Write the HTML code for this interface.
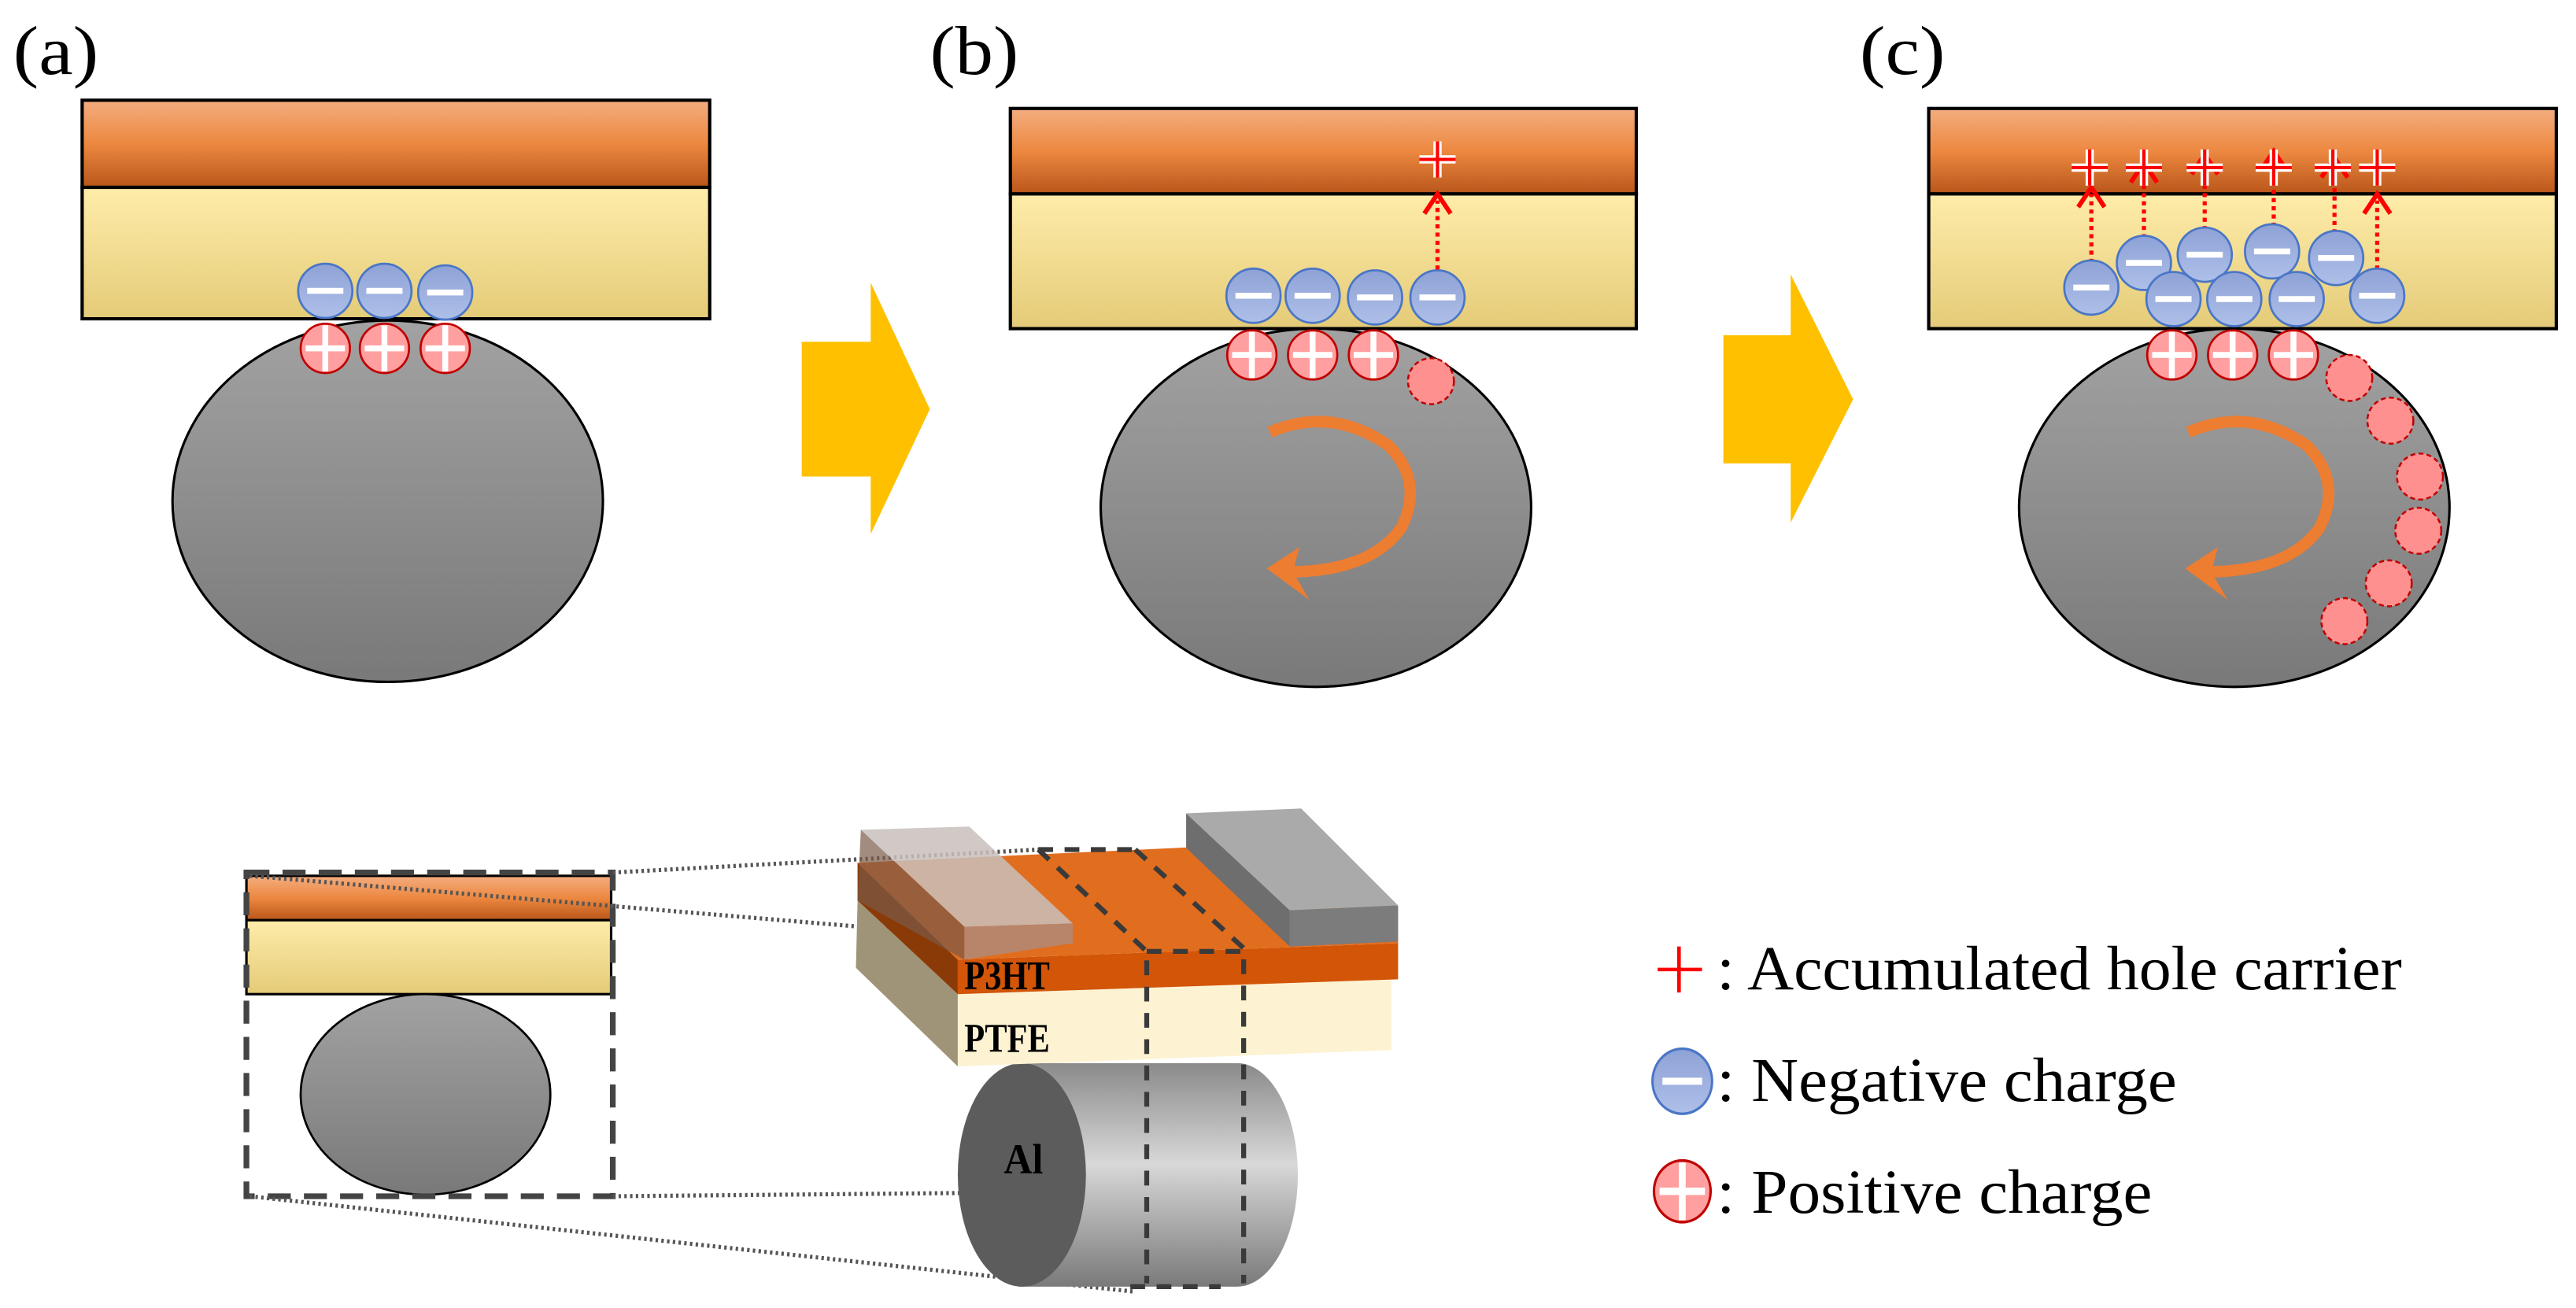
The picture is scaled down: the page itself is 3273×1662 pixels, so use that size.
<!DOCTYPE html>
<html><head><meta charset="utf-8"><style>html,body{margin:0;padding:0;background:#fff}svg{display:block}.s{font-family:'Liberation Serif',serif}</style></head><body>
<svg width="3273" height="1662" viewBox="0 0 1568 796" preserveAspectRatio="none" xmlns="http://www.w3.org/2000/svg">
<defs>
<linearGradient id="og" x1="0" y1="0" x2="0" y2="1"><stop offset="0" stop-color="#f4ad80"/><stop offset="0.5" stop-color="#ec8840"/><stop offset="1" stop-color="#b9561a"/></linearGradient>
<linearGradient id="yg" x1="0" y1="0" x2="0" y2="1"><stop offset="0" stop-color="#feeca9"/><stop offset="1" stop-color="#e4cb78"/></linearGradient>
<linearGradient id="gg" x1="0" y1="0" x2="0" y2="1"><stop offset="0" stop-color="#a2a2a2"/><stop offset="1" stop-color="#797979"/></linearGradient>
<linearGradient id="ng" x1="0" y1="0" x2="0" y2="1"><stop offset="0" stop-color="#8ea2d6"/><stop offset="1" stop-color="#aebfe8"/></linearGradient>
<linearGradient id="cyl" x1="0" y1="0" x2="0" y2="1"><stop offset="0" stop-color="#8a8a8a"/><stop offset="0.45" stop-color="#d8d8d8"/><stop offset="1" stop-color="#7a7a7a"/></linearGradient>
<g id="neg"><circle r="16.5" fill="url(#ng)" stroke="#4a76c6" stroke-width="1.3"/><rect x="-11" y="-1.8" width="22" height="3.6" fill="#fff"/></g>
<g id="pos"><circle r="15" fill="#ff9f9f" stroke="#c00000" stroke-width="1.3"/><rect x="-12" y="-1.8" width="24" height="3.6" fill="#fff"/><rect x="-1.8" y="-14" width="3.6" height="28" fill="#fff"/></g>
<g id="dpos"><circle r="14" fill="#ff9090" stroke="#c00000" stroke-width="1.2" stroke-dasharray="3,2"/></g>
<g id="hp"><path d="M-11 0H11M0 -11V11" stroke="#fff" stroke-width="5"/><path d="M-11 0H11M0 -11V11" stroke="#f00" stroke-width="2"/></g>
<g id="arr"><line x1="0" y1="0" x2="0" y2="-42" stroke="#f00" stroke-width="2.5" stroke-dasharray="2.5,2.5"/><path d="M-8 -34L0 -46L8 -34" fill="none" stroke="#f00" stroke-width="2.8"/></g>
<g id="rot"><path d="M-32 -40 Q5 -56 40 -32 Q62 -10 48 18 Q30 44 -18 45" fill="none" stroke="#ed7d31" stroke-width="7"/><path d="M-34 43 L-14 30 L-18 45 L-8 62 Z" fill="#ed7d31"/></g>
</defs>
<g class="s" fill="#000">
<text x="8" y="45" font-size="42" textLength="52" lengthAdjust="spacingAndGlyphs">(a)</text>
<text x="566" y="45" font-size="42" textLength="54" lengthAdjust="spacingAndGlyphs">(b)</text>
<text x="1132" y="45" font-size="42" textLength="52" lengthAdjust="spacingAndGlyphs">(c)</text>
</g>
<rect x="50" y="61" width="382" height="53" fill="url(#og)" stroke="#000" stroke-width="2"/>
<rect x="50" y="114" width="382" height="80" fill="url(#yg)" stroke="#000" stroke-width="2"/>
<ellipse cx="236" cy="305" rx="131" ry="110" fill="url(#gg)" stroke="#000" stroke-width="1.5"/>
<use href="#neg" x="198" y="177"/><use href="#neg" x="234" y="177"/><use href="#neg" x="271" y="178"/>
<use href="#pos" x="198" y="212"/><use href="#pos" x="234" y="212"/><use href="#pos" x="271" y="212"/>
<path d="M488 208H530V172L566 249L530 325V290H488Z" fill="#ffc000"/>
<path d="M1049 204H1090V167L1128 243L1090 318V282H1049Z" fill="#ffc000"/>
<rect x="615" y="66" width="381" height="52" fill="url(#og)" stroke="#000" stroke-width="2"/>
<rect x="615" y="118" width="381" height="82" fill="url(#yg)" stroke="#000" stroke-width="2"/>
<ellipse cx="801" cy="309" rx="131" ry="109" fill="url(#gg)" stroke="#000" stroke-width="1.5"/>
<use href="#neg" x="763" y="180"/><use href="#neg" x="799" y="180"/><use href="#neg" x="837" y="181"/><use href="#neg" x="875" y="181"/>
<use href="#pos" x="762" y="216"/><use href="#pos" x="799" y="216"/><use href="#pos" x="836" y="216"/>
<use href="#dpos" x="871" y="232"/>
<use href="#arr" x="875" y="164"/>
<use href="#hp" x="875" y="97"/>
<use href="#rot" x="805" y="303"/>
<rect x="1174" y="66" width="382" height="52" fill="url(#og)" stroke="#000" stroke-width="2"/>
<rect x="1174" y="118" width="382" height="82" fill="url(#yg)" stroke="#000" stroke-width="2"/>
<ellipse cx="1360" cy="309" rx="131" ry="109" fill="url(#gg)" stroke="#000" stroke-width="1.5"/>
<use href="#arr" x="1273" y="160"/><use href="#arr" x="1305" y="145"/><use href="#arr" x="1342" y="140"/><use href="#arr" x="1384" y="138"/><use href="#arr" x="1421" y="142"/><use href="#arr" x="1447" y="164"/>
<use href="#neg" x="1273" y="175"/><use href="#neg" x="1305" y="160"/><use href="#neg" x="1323" y="182"/><use href="#neg" x="1342" y="155"/><use href="#neg" x="1360" y="182"/><use href="#neg" x="1383" y="153"/><use href="#neg" x="1398" y="182"/><use href="#neg" x="1422" y="157"/><use href="#neg" x="1447" y="180"/>
<use href="#hp" x="1272" y="102"/><use href="#hp" x="1305" y="102"/><use href="#hp" x="1342" y="102"/><use href="#hp" x="1384" y="102"/><use href="#hp" x="1420" y="102"/><use href="#hp" x="1447" y="102"/>
<use href="#pos" x="1322" y="216"/><use href="#pos" x="1359" y="216"/><use href="#pos" x="1396" y="216"/>
<use href="#dpos" x="1430" y="230"/><use href="#dpos" x="1455" y="256"/><use href="#dpos" x="1473" y="290"/><use href="#dpos" x="1472" y="323"/><use href="#dpos" x="1454" y="355"/><use href="#dpos" x="1427" y="378"/>
<use href="#rot" x="1364" y="303"/>
<rect x="150" y="533" width="222" height="27" fill="url(#og)" stroke="#000" stroke-width="1.5"/>
<rect x="150" y="560" width="222" height="45" fill="url(#yg)" stroke="#000" stroke-width="1.5"/>
<ellipse cx="259" cy="666" rx="76" ry="61" fill="url(#gg)" stroke="#000" stroke-width="1.3"/>
<rect x="150" y="531" width="223" height="197" fill="none" stroke="#444" stroke-width="3.5" stroke-dasharray="14,8"/>
<g stroke="#555" stroke-width="2.5" stroke-dasharray="1.5,2">
<line x1="373" y1="531" x2="633" y2="517"/><line x1="152" y1="533" x2="692" y2="578"/>
<line x1="373" y1="728" x2="587" y2="726"/><line x1="152" y1="728" x2="690" y2="786"/>
</g>
<path d="M620 647H753A37 68 0 0 1 753 783H620Z" fill="url(#cyl)"/>
<ellipse cx="622" cy="715" rx="39" ry="68" fill="#5c5c5c"/>
<text class="s" x="611" y="714" font-size="26" font-weight="bold" textLength="24" lengthAdjust="spacingAndGlyphs">Al</text>
<polygon points="522,548 583,605 583,649 521,589" fill="#a09478"/>
<polygon points="522,525 583,584 583,605 522,548" fill="#8a3a06"/>
<polygon points="583,605 847,596 847,639 583,649" fill="#fdf3d3"/>
<polygon points="583,584 851,574 851,596 583,605" fill="#d25508"/>
<polygon points="522,525 760,514 851,552 851,574 583,584" fill="#e16d1e"/>
<polygon points="524,505 590,503 653,562 587,564" fill="#c8c0bc" opacity="0.85"/>
<polygon points="524,505 587,564 587,584 522,548" fill="#7a5a48" opacity="0.7"/>
<polygon points="587,564 653,562 653,574 587,584" fill="#b08a78" opacity="0.85"/>
<polygon points="722,495 792,492 851,551 785,554" fill="#aaaaaa"/>
<polygon points="722,495 785,554 785,576 722,516" fill="#6e6e6e"/>
<polygon points="785,554 851,551 851,573 785,576" fill="#7c7c7c"/>
<g stroke="#3a3a3a" stroke-width="3" fill="none" stroke-dasharray="9,7">
<path d="M632 517L698 579V781"/><path d="M691 517L757 577V781"/>
<path d="M632 517H691"/><path d="M698 579H757"/><path d="M688 783H743"/>
</g>
<g class="s" font-size="25" font-weight="bold">
<text x="587" y="602" textLength="52" lengthAdjust="spacingAndGlyphs">P3HT</text><text x="587" y="640" textLength="52" lengthAdjust="spacingAndGlyphs">PTFE</text>
</g>
<path d="M1009 590H1036M1022 576V604" stroke="#f00" stroke-width="2.2"/>
<g class="s" font-size="38">
<text x="1045" y="602" textLength="417" lengthAdjust="spacingAndGlyphs">: Accumulated hole carrier</text>
<text x="1045" y="670" textLength="280" lengthAdjust="spacingAndGlyphs">: Negative charge</text>
<text x="1045" y="738" textLength="265" lengthAdjust="spacingAndGlyphs">: Positive charge</text>
</g>
<g transform="translate(1024,658) scale(1.1,1.2)"><use href="#neg"/></g>
<g transform="translate(1024,725) scale(1.15,1.25)"><use href="#pos"/></g>
</svg>
</body></html>
